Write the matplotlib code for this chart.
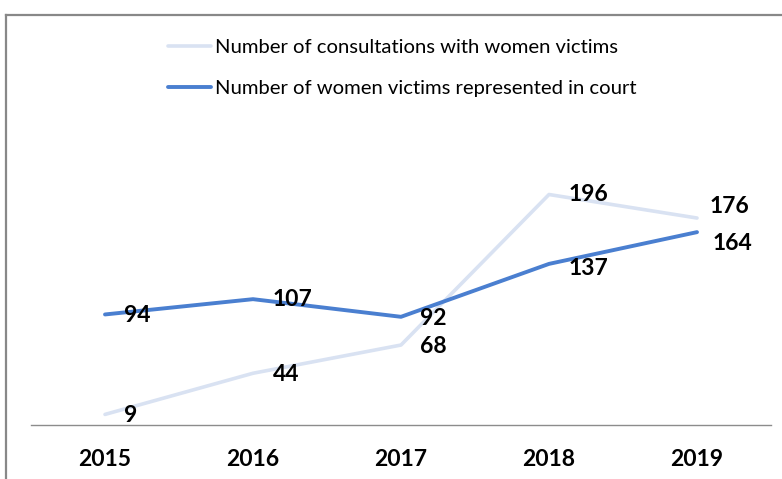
import matplotlib.pyplot as plt
from matplotlib.lines import Line2D

plt.rcParams['font.family'] = ['Lato', 'DejaVu Sans']

years = ["2015", "2016", "2017", "2018", "2019"]
consultations = [9, 44, 68, 196, 176]
represented = [94, 107, 92, 137, 164]
series_names = ["Number of consultations with women victims",
                "Number of women victims represented in court"]

light = "#d9e2f2"
dark = "#4a7fd0"

fig = plt.figure(figsize=(7.82, 4.79), dpi=100)
ax = fig.add_axes([31/782, 54/479, 740/782, 294/479])

x = range(len(years))
ax.plot(x, consultations, color=light, lw=2.6, solid_capstyle='round', label=series_names[0])
ax.plot(x, represented, color=dark, lw=2.8, solid_capstyle='round', label=series_names[1])

# data labels, offsets in points (Excel "right" position, 2019 nudged)
off_c = [(14, -1), (14, -1), (14, -1), (14, 0), (9, 8)]
off_r = [(14, -1), (14, 0), (14, -1), (14, -3), (11, -8)]
for i in x:
    ax.annotate(str(consultations[i]), (i, consultations[i]), xytext=off_c[i],
                textcoords='offset points', ha='left', va='center',
                fontsize=16.5, fontweight='bold')
    ax.annotate(str(represented[i]), (i, represented[i]), xytext=off_r[i],
                textcoords='offset points', ha='left', va='center',
                fontsize=16.5, fontweight='bold')

ax.set_xlim(-0.5, len(years) - 0.5)
ax.set_ylim(0, 250)
ax.set_xticks(list(x))
ax.set_xticklabels(years, fontsize=16.5, fontweight='bold')
ax.tick_params(axis='x', length=0, pad=17)
ax.set_yticks([])
for s in ['top', 'right', 'left']:
    ax.spines[s].set_visible(False)
ax.spines['bottom'].set_color('#8c8c8c')
ax.spines['bottom'].set_linewidth(1)

fig.legend(loc='center left', bbox_to_anchor=(168/782, 1 - 68/479), frameon=False,
           fontsize=14.6, handlelength=2.1, handletextpad=0.2, labelspacing=1.15,
           borderpad=0, borderaxespad=0)

# outer chart frame (clipped at the right and bottom)
fig.add_artist(Line2D([6/782, 1.01], [1 - 15/479, 1 - 15/479], color='#888888', lw=1.6,
                      transform=fig.transFigure))
fig.add_artist(Line2D([6/782, 6/782], [1 - 15/479, -0.01], color='#888888', lw=1.6,
                      transform=fig.transFigure))

fig.savefig("out.png", dpi=100)
